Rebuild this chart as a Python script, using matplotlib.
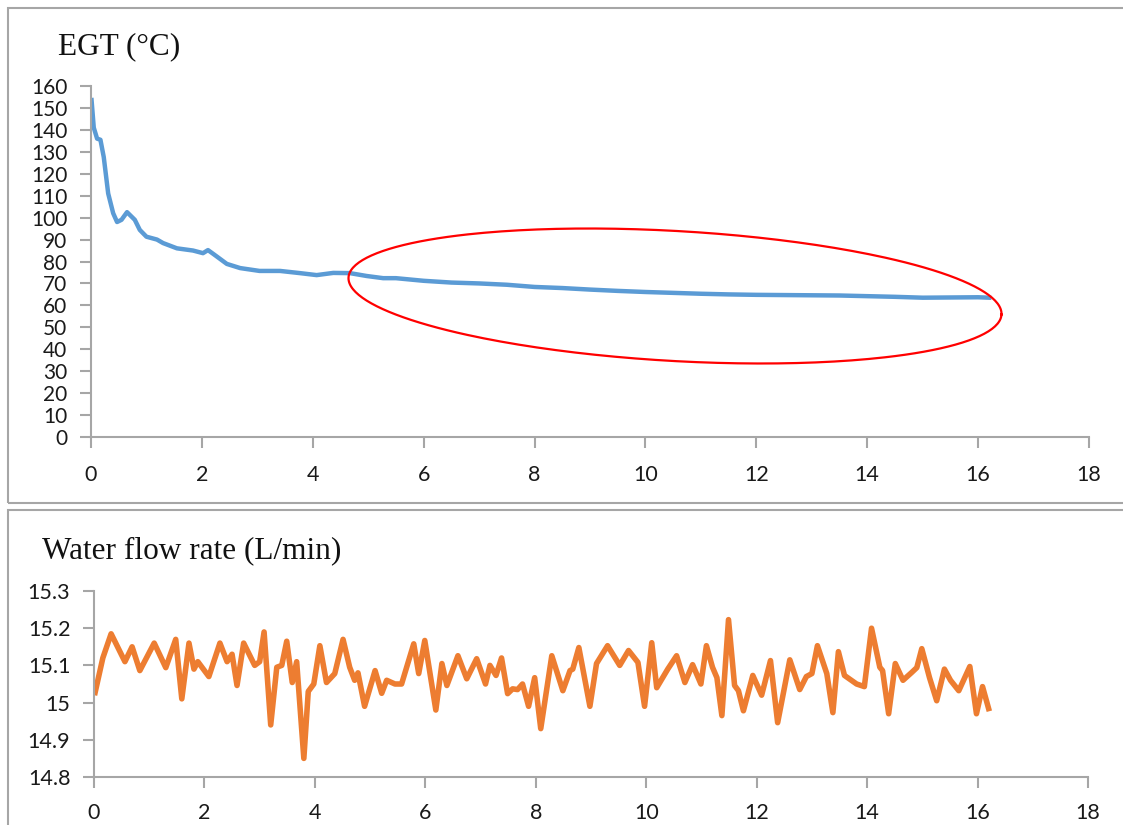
import numpy as np
import matplotlib.pyplot as plt
from matplotlib.patches import Rectangle
from matplotlib.ticker import FixedLocator

# EGT (top panel)
egt_time = [0.01, 0.05, 0.11, 0.17, 0.23, 0.31, 0.40, 0.47, 0.55, 0.65, 0.79, 0.88, 1.00,
            1.19, 1.30, 1.55, 1.84, 2.02, 2.11, 2.23, 2.45, 2.69, 3.04, 3.41, 3.77, 4.07,
            4.37, 4.67, 4.97, 5.27, 5.50, 6.00, 6.50, 7.00, 7.50, 8.00, 8.50, 9.00, 9.50,
            10.00, 10.50, 11.00, 11.50, 12.00, 12.50, 13.00, 13.50, 14.00, 14.50, 15.00,
            15.50, 16.00, 16.20]
egt_vals = [153.6, 141, 136, 135.5, 127.6, 111, 102, 98, 99, 102.5, 99, 94.4, 91.3,
            90, 88.4, 86, 85, 83.8, 85.2, 83, 78.9, 77, 75.7, 75.7, 74.7, 73.8,
            74.8, 74.7, 73.4, 72.4, 72.4, 71.2, 70.4, 70.0, 69.4, 68.4, 67.9, 67.2, 66.6,
            66.1, 65.7, 65.3, 65.0, 64.8, 64.7, 64.6, 64.5, 64.2, 63.9, 63.5,
            63.6, 63.7, 63.5]

# Water flow rate (bottom panel)
flow_time = [0.02, 0.16, 0.31, 0.56, 0.69, 0.83, 1.09, 1.30, 1.48, 1.59, 1.72, 1.81, 1.88,
             2.08, 2.28, 2.41, 2.50, 2.59, 2.71, 2.91, 3.00, 3.08, 3.20, 3.31, 3.40, 3.49,
             3.59, 3.67, 3.80, 3.88, 3.98, 4.09, 4.21, 4.36, 4.51, 4.63, 4.72, 4.78, 4.90,
             5.09, 5.21, 5.30, 5.45, 5.57, 5.79, 5.88, 5.99, 6.19, 6.30, 6.39, 6.59, 6.75,
             6.93, 7.09, 7.17, 7.28, 7.38, 7.49, 7.58, 7.67, 7.76, 7.87, 7.98, 8.09, 8.29,
             8.49, 8.62, 8.67, 8.78, 8.98, 9.10, 9.30, 9.52, 9.68, 9.85, 9.97, 10.10, 10.19,
             10.39, 10.55, 10.70, 10.84, 10.99, 11.09, 11.20, 11.28, 11.37, 11.49, 11.60,
             11.67, 11.76, 11.93, 12.09, 12.25, 12.38, 12.60, 12.78, 12.90, 13.00, 13.10,
             13.27, 13.38, 13.48, 13.59, 13.81, 13.95, 14.08, 14.23, 14.28, 14.39, 14.51,
             14.65, 14.80, 14.90, 14.99, 15.13, 15.26, 15.40, 15.51, 15.66, 15.86, 15.98,
             16.09, 16.20]
flow_vals = [15.027, 15.12, 15.185, 15.11, 15.15, 15.086, 15.16, 15.094, 15.17, 15.01, 15.16,
             15.09, 15.11, 15.07, 15.16, 15.11, 15.13, 15.046, 15.16, 15.10, 15.11, 15.19,
             14.94, 15.095, 15.10, 15.165, 15.054, 15.11, 14.85, 15.03, 15.05, 15.153, 15.054,
             15.078, 15.17, 15.095, 15.06, 15.08, 14.99, 15.086, 15.025, 15.06, 15.05, 15.05,
             15.158, 15.078, 15.167, 14.98, 15.105, 15.046, 15.126, 15.064, 15.118, 15.05,
             15.10, 15.073, 15.12, 15.024, 15.037, 15.035, 15.05, 14.99, 15.067, 14.93,
             15.126, 15.032, 15.086, 15.09, 15.148, 14.99, 15.105, 15.153, 15.10, 15.14,
             15.108, 14.99, 15.161, 15.04, 15.09, 15.126, 15.054, 15.102, 15.05, 15.153,
             15.095, 15.067, 14.965, 15.223, 15.046, 15.032, 14.978, 15.073, 15.02, 15.113,
             14.946, 15.115, 15.035, 15.07, 15.078, 15.153, 15.078, 14.973, 15.137, 15.073,
             15.05, 15.043, 15.20, 15.095, 15.086, 14.97, 15.105, 15.06, 15.08, 15.094,
             15.145, 15.067, 15.005, 15.09, 15.06, 15.032, 15.097, 14.97, 15.043, 14.984]

x_ticks = [0, 2, 4, 6, 8, 10, 12, 14, 16, 18]
egt_ticks = list(range(0, 161, 10))
flow_ticks = [14.8, 14.9, 15.0, 15.1, 15.2, 15.3]
flow_tick_labels = ["14.8", "14.9", "15", "15.1", "15.2", "15.3"]

AXIS_GRAY = "#a6a6a6"
TICK_FONT = "Lato"
TITLE_FONT = "Liberation Serif"

fig = plt.figure(figsize=(11.23, 8.25), dpi=100)

# panel frames
fig.patches.append(Rectangle((8 / 1123, 1 - 503 / 825), 1.2, 495 / 825,
                             transform=fig.transFigure, fill=False,
                             edgecolor=AXIS_GRAY, linewidth=1.5))
fig.patches.append(Rectangle((8 / 1123, -0.2), 1.2, 0.2 + 1 - 510 / 825,
                             transform=fig.transFigure, fill=False,
                             edgecolor=AXIS_GRAY, linewidth=1.5))


def style_axes(ax, xpad):
    for side in ("top", "right"):
        ax.spines[side].set_visible(False)
    for side in ("left", "bottom"):
        ax.spines[side].set_color(AXIS_GRAY)
        ax.spines[side].set_linewidth(1.5)
    ax.tick_params(axis="both", direction="out", color=AXIS_GRAY, width=1.5,
                   length=8, labelsize=15.5, labelcolor="#1a1a1a")
    ax.tick_params(axis="x", pad=xpad)
    ax.tick_params(axis="y", pad=9)
    for lbl in ax.get_xticklabels() + ax.get_yticklabels():
        lbl.set_fontfamily(TICK_FONT)


ax1 = fig.add_axes([91 / 1123, 1 - 437 / 825, 998 / 1123, 351 / 825])
ax1.plot(egt_time, egt_vals, color="#5b9bd5", linewidth=3.2, solid_joinstyle="round")
ax1.set_xlim(0, 18)
ax1.set_ylim(0, 160)
ax1.set_xticks(x_ticks)
ax1.set_yticks(egt_ticks)
style_axes(ax1, xpad=12)
ax1.tick_params(axis="y", labelsize=15)

# red ellipse highlighting the steady region (drawn in pixel space, mapped to data)
cx_px, cy_px = 675, 296
a_px, b_px, ang = 327, 65, np.deg2rad(-3.25)
t = np.linspace(0, 2 * np.pi, 300)
ex = cx_px + a_px * np.cos(t) * np.cos(ang) - b_px * np.sin(t) * np.sin(ang)
ey = cy_px - (a_px * np.cos(t) * np.sin(ang) + b_px * np.sin(t) * np.cos(ang))
ax1.plot((ex - 91) / (998 / 18), (437 - ey) / (351 / 160), color="red",
         linewidth=1.6, clip_on=False)

fig.text(58 / 1123, 1 - 47 / 825, "EGT (°C)", fontfamily=TITLE_FONT,
         fontsize=22.5, va="center", ha="left", color="#111111")

ax2 = fig.add_axes([94 / 1123, 1 - 777 / 825, 994 / 1123, 186 / 825])
ax2.plot(flow_time, flow_vals, color="#ed7d31", linewidth=4.0, solid_joinstyle="round")
ax2.set_xlim(0, 18)
ax2.set_ylim(14.8, 15.3)
ax2.set_xticks(x_ticks)
ax2.yaxis.set_major_locator(FixedLocator(flow_ticks))
ax2.set_yticklabels(flow_tick_labels)
style_axes(ax2, xpad=11)

fig.text(42 / 1123, 1 - 551 / 825, "Water flow rate (L/min)", fontfamily=TITLE_FONT,
         fontsize=22.5, va="center", ha="left", color="#111111")

fig.savefig("out.png", dpi=100)
